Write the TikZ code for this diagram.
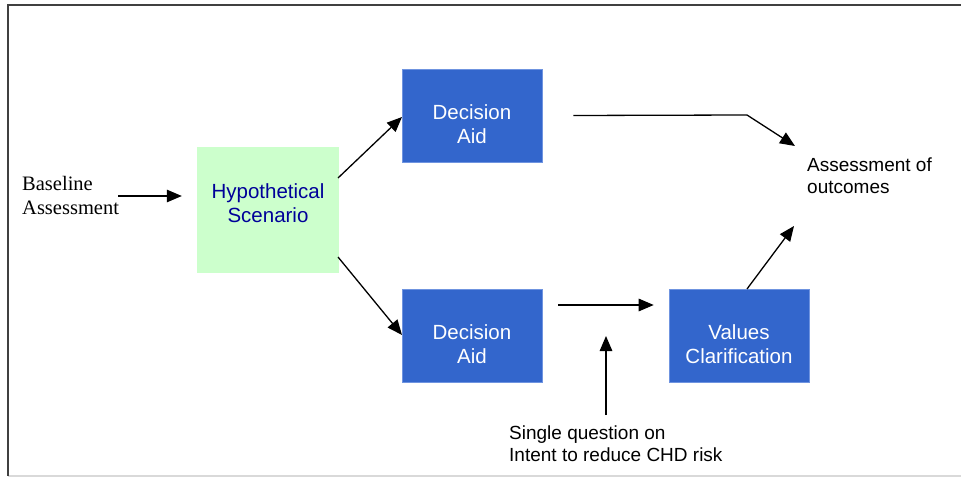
\documentclass[tikz,border=0pt]{standalone}
\usepackage{fontspec}
\setmainfont{Liberation Serif}
\newfontfamily\arialfont{Liberation Sans}
\usetikzlibrary{arrows.meta,calc}
\definecolor{boxblue}{HTML}{3366CC}
\definecolor{boxedge}{HTML}{6F94E0}
\definecolor{hsgreen}{HTML}{CCFFCC}
\definecolor{hstext}{HTML}{000099}
\definecolor{framedark}{HTML}{404040}
\definecolor{framelight}{HTML}{D9D9D9}
\tikzset{
  bluebox/.style={draw=boxedge, line width=0.6pt, fill=boxblue, minimum width=140pt, minimum height=93pt, inner sep=0pt},
  greenbox/.style={fill=hsgreen, minimum width=142pt, minimum height=126pt, inner sep=0pt},
  boxtext/.style={font=\arialfont\fontsize{20.5}{24}\selectfont, align=center, inner sep=0pt, text=white},
  labeltext/.style={font=\arialfont\fontsize{19}{22}\selectfont, align=left, inner sep=0pt},
  conn/.style={line width=1.3pt, -{Triangle[length=15pt,width=12.5pt]}},
}
\begin{document}
\begin{tikzpicture}[x=1pt,y=-1pt]
\useasboundingbox (0,0) rectangle (961,478);
% frame
\draw[framelight, line width=1.5pt] (8,476) -- (961,476);
\draw[framedark, line width=2pt] (961,5) -- (8,5) -- (8,476);
% boxes
\node[greenbox] (hs) at (268,210) {};
\node[boxtext, text=hstext] (hst) at (268,203) {Hypothetical\\Scenario};
\node[bluebox] (da1) at (472,115.5) {};
\node[boxtext] (da1t) at (472,124) {Decision\\Aid};
\node[bluebox] (da2) at (472,335.5) {};
\node[boxtext] (da2t) at (472,344) {Decision\\Aid};
\node[bluebox] (vc) at (739,336) {};
\node[boxtext] (vct) at (739,344) {Values\\Clarification};
% labels
\node[font=\fontsize{20.5}{24}\selectfont, align=left, inner sep=0pt, anchor=west] (ba) at (22,195) {Baseline\\Assessment};
\node[labeltext, anchor=west] (ao) at (807,176) {Assessment of\\outcomes};
\node[labeltext, anchor=west] (sq) at (509,444) {Single question on\\Intent to reduce CHD risk};
% free-end coordinates
\coordinate (baout) at (118,196);
\coordinate (hsin) at ($(hs.west)+(-15,-14)$);
\coordinate (hsup) at (338,178);
\coordinate (hsdown) at (338,257);
\coordinate (da1in) at (402,117);
\coordinate (da2in) at (402,335);
\coordinate (topstart) at ($(da1.east)+(31,0)$);
\coordinate (topbend) at (747,115);
\coordinate (topend) at (795,146);
\coordinate (midstart) at ($(da2.east)+(16,-30.5)$);
\coordinate (midend) at ($(vc.west)+(-15,-31)$);
\coordinate (vcup) at (747,289);
\coordinate (vcend) at (794,226);
\coordinate (sqtop) at (606,415);
\coordinate (sqend) at (606,336);
% connectors
\draw[conn] (baout) -- (hsin);
\draw[conn] (hsup) -- (da1in);
\draw[conn] (hsdown) -- (da2in);
\draw[conn] (topstart) -- (topbend) -- (topend);
\draw[conn] (midstart) -- (midend);
\draw[conn] (vcup) -- (vcend);
\draw[conn] (sqtop) -- (sqend);
\end{tikzpicture}
\end{document}
